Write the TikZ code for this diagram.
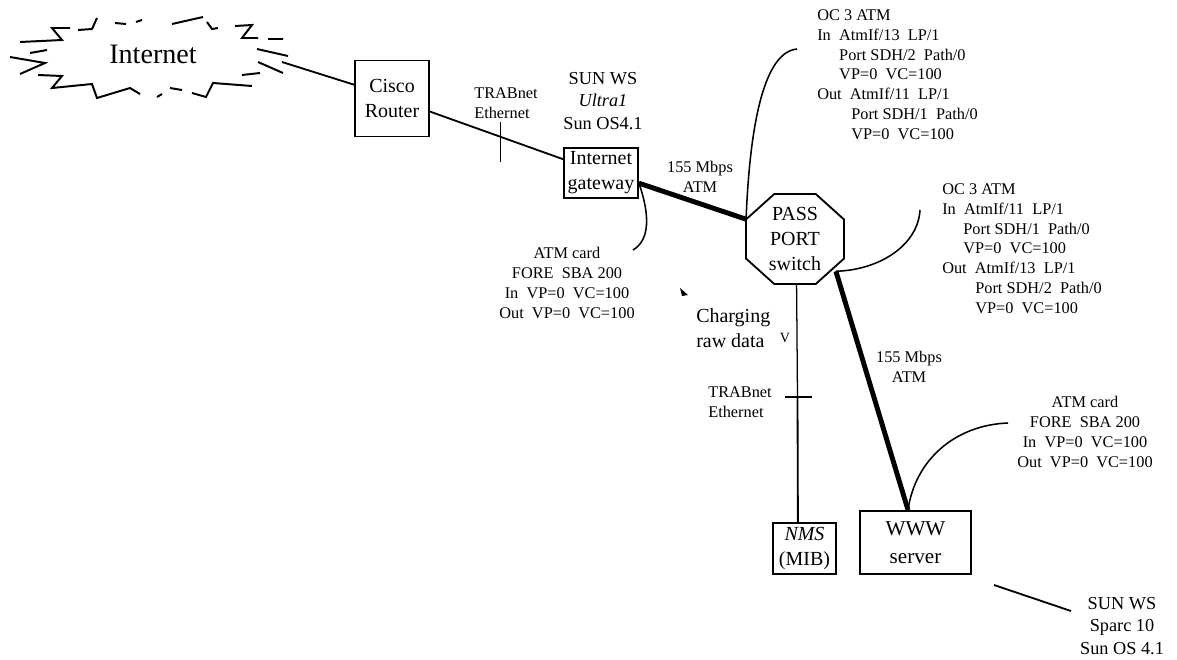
\documentclass[tikz,border=0pt]{standalone}
\usepackage{fontspec}
\setmainfont{Liberation Serif}
\usetikzlibrary{positioning}

\begin{document}
\begin{tikzpicture}[
  x=0.025cm, y=-0.025cm,
  box/.style={draw, line width=1.3pt, inner sep=0pt, align=center,
    font=\fontsize{14.2}{17.8}\selectfont},
  lab/.style={inner sep=0pt, align=center, font=\fontsize{11.6}{14.2}\selectfont},
  ws/.style={inner sep=0pt, align=center, font=\fontsize{13}{15.7}\selectfont},
  link/.style={line width=1.3pt},
  atm/.style={line width=3.5pt},
  leader/.style={line width=1.1pt}
]
\useasboundingbox (0,0) rectangle (1177,659);

% cloud
\draw[line width=1.4pt]
  (20,42) -- (62,40) -- (52,28) -- (70,28)
  (78,30) -- (92,29) -- (97,18)
  (115,23) -- (126,24)
  (136,22) -- (142,20)
  (172,24) -- (203,17)
  (207,22) -- (212,29) -- (218,28)
  (235,26) -- (252,25) -- (242,38) -- (258,38)
  (268,39) -- (283,39)
  (257,49) -- (288,56)
  (258,62) -- (283,73)
  (242,75) -- (260,73)
  (252,86) -- (213,83) -- (206,97) -- (192,93)
  (182,90) -- (170,88)
  (162,94) -- (157,97)
  (140,94) -- (130,88) -- (97,98) -- (92,84) -- (52,88) -- (62,76) -- (38,75)
  (20,74) -- (45,63) -- (10,57)
  (30,53) -- (47,50);
\node[inner sep=0pt, font=\fontsize{20}{24}\selectfont] (internet) at (153,54) {Internet};
\coordinate (cloudport) at (282,62);

% equipment
\node[box, minimum width=74*0.7113pt, minimum height=76*0.7113pt] (router) at (392,98.5) {Cisco\\Router};
\node[box, minimum width=74*0.7113pt, minimum height=50*0.7113pt] (gateway) at (601,173) {Internet\\gateway};
\node[box, draw=none, minimum width=96*0.7113pt, minimum height=88*0.7113pt] (pass) at (795,239) {PASS\\PORT\\switch};
\draw[link] ([xshift=20pt]pass.north west) -- ([xshift=-20pt]pass.north east)
  -- ([yshift=-18pt]pass.north east) -- ([yshift=18pt]pass.south east)
  -- ([xshift=-20pt]pass.south east) -- ([xshift=20pt]pass.south west)
  -- ([yshift=18pt]pass.south west) -- ([yshift=-18pt]pass.north west) -- cycle;
\coordinate (passport) at ([xshift=-5.7pt,yshift=9pt]pass.south east);
\node[box, minimum width=63*0.7113pt, minimum height=51*0.7113pt] (nms) at (804.5,548.5) {\textit{NMS}\\(MIB)};
\node[box, minimum width=111*0.7113pt, minimum height=63*0.7113pt,
  font=\fontsize{15}{20}\selectfont] (www) at (915.5,542.5) {WWW\\server};

% links
\draw[link] (cloudport) -- (router.160);
\draw[link] (router.-19) -- coordinate[pos=0.53] (tracktick) (gateway.160);
\draw[link] (tracktick) ++(0,-15) -- ++(0,40);
\draw[atm] (gateway.-15) -- (pass.158);
\draw[atm] (passport) -- (www.103);
\coordinate (nmstick) at (797.5,397);
\draw[line width=0.9pt] (pass.-88) -- (nmstick);
\draw[link] (nmstick) -- (nms.104);
\draw[link] (785,397) -- (812,397);

% leaders
\coordinate (topend) at (797,49);
\coordinate (cardend) at (633,250);
\coordinate (rightend) at (920,210);
\coordinate (wwwend) at (1008,423);
\coordinate (sunstart) at (994,585);
\coordinate (sunend) at (1071,611);
\draw[leader] (pass.158) .. controls (750,120) and (765,52) .. (topend);
\draw[leader] (gateway.-15) .. controls (650,215) and (650,240) .. (cardend);
\draw[leader] (passport) .. controls (880,270) and (918,245) .. (rightend);
\draw[leader] (www.103) .. controls (915,460) and (955,425) .. (wwwend);
\draw[link] (sunstart) -- (sunend);

% texts
\node[ws] (sunultra) at (603,101) {SUN WS\\\textit{Ultra1}\\Sun OS4.1};
\node[ws] (sunsparc) at (1122,626) {SUN WS\\Sparc 10\\Sun OS 4.1};
\node[lab, align=left, anchor=west] (traba) at (474,103) {TRABnet\\Ethernet};
\node[lab, align=left, anchor=west] (trabb) at (708,402.5) {TRABnet\\Ethernet};
\node[lab] (rateg) at (700,176.5) {155 Mbps\\ATM};
\node[lab] (ratew) at (909,367) {155 Mbps\\ATM};
\node[lab] (cardg) at (567,283) {ATM card\\FORE~~SBA 200\\In~~VP=0~~VC=100\\Out~~VP=0~~VC=100};
\node[lab] (cardw) at (1085,432) {ATM card\\FORE~~SBA 200\\In~~VP=0~~VC=100\\Out~~VP=0~~VC=100};
\node[lab, align=left, anchor=north west] (octop) at (817,9)
  {OC 3 ATM\\In~~AtmIf/13~~LP/1\\\hspace*{15.6pt}Port SDH/2~~Path/0\\\hspace*{15.6pt}VP=0~~VC=100\\
   Out~~AtmIf/11~~LP/1\\\hspace*{24.2pt}Port SDH/1~~Path/0\\\hspace*{24.2pt}VP=0~~VC=100};
\node[lab, align=left, anchor=north west] (ocright) at (942,183)
  {OC 3 ATM\\In~~AtmIf/11~~LP/1\\\hspace*{15pt}Port SDH/1~~Path/0\\\hspace*{15pt}VP=0~~VC=100\\
   Out~~AtmIf/13~~LP/1\\\hspace*{23.5pt}Port SDH/2~~Path/0\\\hspace*{23.5pt}VP=0~~VC=100};
\node[inner sep=0pt, align=left, anchor=west, font=\fontsize{14.2}{17.8}\selectfont] (charging) at (696,328) {Charging\\raw data};
\node[inner sep=0pt, font=\fontsize{10}{12}\selectfont] (vmark) at (785,338) {V};
\fill (680,288) -- (688,295) -- (682,296) -- cycle;
\end{tikzpicture}
\end{document}
